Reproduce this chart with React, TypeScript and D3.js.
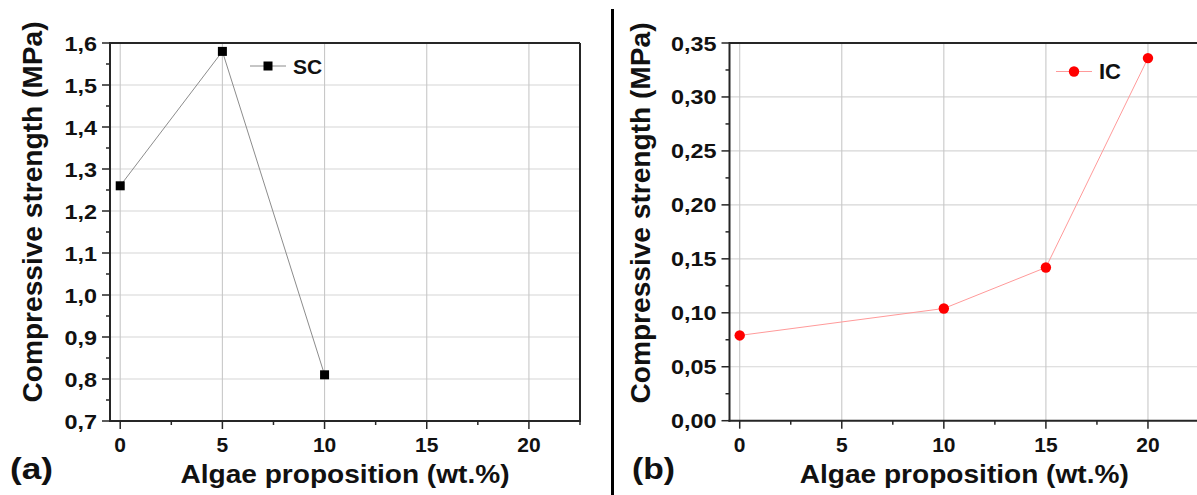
import React from "react";
import * as d3 from "d3";

const xTickValues = [0, 5, 10, 15, 20];
const xMinorValues = [2.5, 7.5, 12.5, 17.5, 22.5];

const scX = [0, 5, 10];
const scY = [1.26, 1.58, 0.81];
const scTicks = [0.7, 0.8, 0.9, 1.0, 1.1, 1.2, 1.3, 1.4, 1.5, 1.6];

const icX = [0, 10, 15, 20];
const icY = [0.079, 0.104, 0.142, 0.336];
const icTicks = [0, 0.05, 0.1, 0.15, 0.2, 0.25, 0.3, 0.35];

const xTitle = "Algae proposition (wt.%)";
const yTitle = "Compressive strength (MPa)";

const FONT = "Arial, 'Liberation Sans', sans-serif";

type PanelProps = {
  left: number;
  right: number;
  top: number;
  bottom: number;
  yDomain: [number, number];
  yTicks: number[];
  yDecimals: number;
  xs: number[];
  ys: number[];
  lineColor: string;
  markerColor: string;
  marker: "square" | "circle";
  legendName: string;
  legendX: number;
  legendY: number;
  legendFont: number;
  yTitleX: number;
  yTitleCenter: number;
  panelLabel: string;
  panelLabelX: number;
  tickLabelScale: number;
};

function Marker({ kind, x, y, color }: { kind: string; x: number; y: number; color: string }) {
  if (kind === "square") {
    return <rect x={x - 4.5} y={y - 4.5} width={9} height={9} fill={color} />;
  }
  return <circle cx={x} cy={y} r={5.2} fill={color} />;
}

function Panel(p: PanelProps) {
  const x = d3.scaleLinear().domain([-0.5, 22.5]).range([p.left, p.right]);
  const y = d3.scaleLinear().domain(p.yDomain).range([p.bottom, p.top]);
  const fmt = (v: number) => d3.format(`.${p.yDecimals}f`)(v).replace(".", ",");
  const yMinor = p.yTicks.slice(0, -1).map((v, i) => (v + p.yTicks[i + 1]) / 2);
  const line = d3
    .line<number>()
    .x((_, i) => x(p.xs[i]))
    .y((d) => y(d));
  const axisColor = "#262626";
  return (
    <g>
      {/* grid */}
      {p.yTicks.map((v) => (
        <line key={"gy" + v} x1={p.left} x2={p.right} y1={y(v)} y2={y(v)} stroke="#d6d6d6" strokeWidth={1.2} />
      ))}
      {xTickValues.map((v) => (
        <line key={"gx" + v} x1={x(v)} x2={x(v)} y1={p.top} y2={p.bottom} stroke="#c8c8c8" strokeWidth={1.1} />
      ))}
      {/* frame */}
      <line x1={p.left} x2={p.right} y1={p.top} y2={p.top} stroke={axisColor} strokeWidth={2} />
      <line x1={p.right} x2={p.right} y1={p.top} y2={p.bottom} stroke={axisColor} strokeWidth={2} />
      <line x1={p.left} x2={p.left} y1={p.top - 1} y2={p.bottom + 1} stroke={axisColor} strokeWidth={2} />
      <line x1={p.left - 1} x2={p.right + 1} y1={p.bottom} y2={p.bottom} stroke={axisColor} strokeWidth={2} />
      {/* y ticks */}
      {p.yTicks.map((v) => (
        <g key={"yt" + v}>
          <line x1={p.left - 8} x2={p.left} y1={y(v)} y2={y(v)} stroke={axisColor} strokeWidth={1.5} />
          <text
            transform={`translate(${p.left - 13},${y(v) + 7.5}) scale(${p.tickLabelScale},1)`}
            textAnchor="end"
            fontFamily={FONT}
            fontWeight="bold"
            fontSize={19.5}
            fill="#111"
          >
            {fmt(v)}
          </text>
        </g>
      ))}
      {yMinor.map((v) => (
        <line key={"ym" + v} x1={p.left - 4} x2={p.left} y1={y(v)} y2={y(v)} stroke={axisColor} strokeWidth={1.5} />
      ))}
      {/* x ticks */}
      {xTickValues.map((v) => (
        <g key={"xt" + v}>
          <line x1={x(v)} x2={x(v)} y1={p.bottom} y2={p.bottom + 8} stroke={axisColor} strokeWidth={1.5} />
          <text x={x(v)} y={p.bottom + 31} textAnchor="middle" fontFamily={FONT} fontWeight="bold" fontSize={21} fill="#111">
            {v}
          </text>
        </g>
      ))}
      {xMinorValues.map((v) => (
        <line key={"xm" + v} x1={x(v)} x2={x(v)} y1={p.bottom} y2={p.bottom + 4} stroke={axisColor} strokeWidth={1.5} />
      ))}
      {/* data */}
      <path d={line(p.ys) || ""} fill="none" stroke={p.lineColor} strokeWidth={1} />
      {p.ys.map((v, i) => (
        <Marker key={"m" + i} kind={p.marker} x={x(p.xs[i])} y={y(v)} color={p.markerColor} />
      ))}
      {/* legend */}
      <line x1={p.legendX} x2={p.legendX + 36} y1={p.legendY} y2={p.legendY} stroke={p.lineColor} strokeWidth={1} />
      <Marker kind={p.marker} x={p.legendX + 18} y={p.legendY} color={p.markerColor} />
      <text x={p.legendX + 43} y={p.legendY + p.legendFont * 0.36} fontFamily={FONT} fontWeight="bold" fontSize={p.legendFont} fill="#111">
        {p.legendName}
      </text>
      {/* titles */}
      <text
        x={(p.left + p.right) / 2}
        y={483}
        textAnchor="middle"
        fontFamily={FONT}
        fontWeight="bold"
        fontSize={25}
        textLength={329}
        lengthAdjust="spacingAndGlyphs"
        fill="#111"
      >
        {xTitle}
      </text>
      <text
        transform={`translate(${p.yTitleX},${p.yTitleCenter}) rotate(-90)`}
        textAnchor="middle"
        fontFamily={FONT}
        fontWeight="bold"
        fontSize={28}
        textLength={381}
        lengthAdjust="spacingAndGlyphs"
        fill="#111"
      >
        {yTitle}
      </text>
      <text
        x={p.panelLabelX}
        y={479}
        fontFamily={FONT}
        fontWeight="bold"
        fontSize={30}
        textLength={43}
        lengthAdjust="spacingAndGlyphs"
        fill="#111"
      >
        {p.panelLabel}
      </text>
    </g>
  );
}

export default function App() {
  return (
    <svg
      width={1197}
      height={495}
      style={{ position: "absolute", left: 0, top: 0, background: "#fff" }}
    >
      <rect x={0} y={0} width={1197} height={495} fill="#fff" />
      <Panel
        left={110}
        right={580}
        top={43}
        bottom={421}
        yDomain={[0.7, 1.6]}
        yTicks={scTicks}
        yDecimals={1}
        xs={scX}
        ys={scY}
        lineColor="#8c8c8c"
        markerColor="#000"
        marker="square"
        legendName="SC"
        legendX={250}
        legendY={66}
        legendFont={21}
        yTitleX={42}
        yTitleCenter={212}
        panelLabel="(a)"
        panelLabelX={10}
        tickLabelScale={1.2}
      />
      <rect x={611} y={9} width={3} height={486} fill="#000" />
      <Panel
        left={729.5}
        right={1199}
        top={43}
        bottom={420.7}
        yDomain={[0, 0.35]}
        yTicks={icTicks}
        yDecimals={2}
        xs={icX}
        ys={icY}
        lineColor="#ff9a9a"
        markerColor="#ff0000"
        marker="circle"
        legendName="IC"
        legendX={1056}
        legendY={71.5}
        legendFont={22}
        yTitleX={650}
        yTitleCenter={213}
        panelLabel="(b)"
        panelLabelX={632}
        tickLabelScale={1.2}
      />
    </svg>
  );
}
